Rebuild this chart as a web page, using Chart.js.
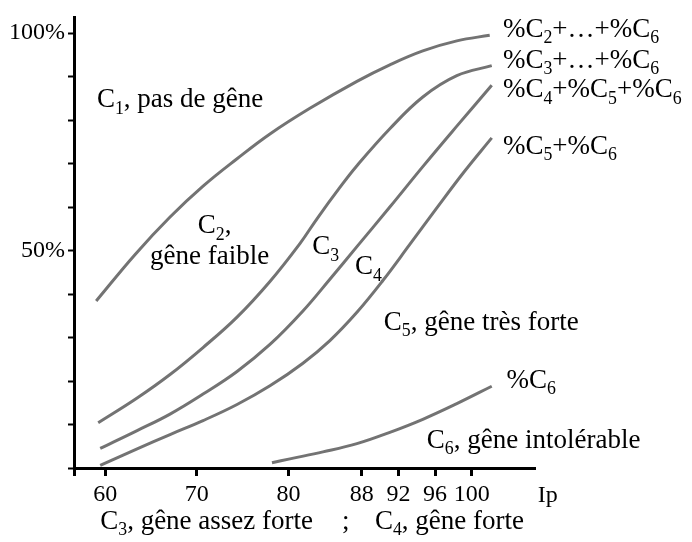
<!DOCTYPE html>
<html lang="fr">
<head>
<meta charset="utf-8">
<title>Classes de gêne en fonction de Ip</title>
<script src="https://cdn.jsdelivr.net/npm/chart.js@4/dist/chart.umd.min.js"></script>
<style>
  html, body { margin: 0; padding: 0; background: #fff; }
  canvas { display: block; }
</style>
</head>
<body>
<canvas id="graphique" width="692" height="542"></canvas>
<script>
// Valeurs lues sur chaque courbe : indice Ip et pourcentage cumulé
const ipC2aC6 = [59.02, 63.27, 67.08, 70.68, 74.39, 77.98, 82.34, 87.47, 91.06, 94.66, 98.37, 101.96];
const pctC2aC6 = [38.4, 49.1, 57.7, 64.8, 71.1, 76.8, 82.7, 88.9, 92.7, 95.9, 98.2, 99.5];

const ipC3aC6 = [59.24, 63.49, 67.08, 70.68, 74.39, 77.98, 81.25, 83.11, 85.61, 87.47, 91.06, 94.66, 98.37, 102.18];
const pctC3aC6 = [10.4, 16.1, 21.5, 27.7, 34.7, 42.9, 51.6, 57.3, 64.5, 69.5, 78.0, 85.3, 90.2, 92.5];

const ipC4aC6 = [59.46, 63.49, 67.08, 70.68, 74.39, 77.98, 81.58, 84.52, 87.47, 91.06, 94.66, 98.37, 102.18];
const pctC4aC6 = [4.5, 8.6, 12.4, 17.0, 22.2, 28.4, 36.1, 43.4, 50.9, 60.0, 69.3, 78.6, 88.0];

const ipC5C6 = [59.46, 63.49, 67.08, 70.68, 74.39, 77.98, 81.58, 84.52, 87.47, 90.30, 93.24, 96.19, 99.13, 102.18];
const pctC5C6 = [0.6, 4.4, 7.7, 10.9, 14.6, 18.9, 24.1, 29.3, 35.8, 43.1, 51.4, 59.8, 68.0, 75.9];

const ipC6 = [78.20, 80.16, 83.76, 87.47, 91.06, 94.66, 98.37, 102.18];
const pctC6 = [1.2, 2.1, 3.7, 5.6, 8.2, 11.2, 14.8, 18.8];

const ticksIp = [60, 70, 80, 88, 92, 96, 100];
const ticksPct = [50, 100];

const IP_MIN = 56.6;
const IP_MAX = 106.9;
const PCT_MAX = 103.6;

const POLICE = '"Liberation Serif", "Times New Roman", serif';
const COULEUR_COURBE = 'rgba(80, 80, 80, 0.8)';

/**
 * Textes posés dans le graphique (morceaux [texte, indice?]) et leur point d'ancrage en Ip / %.
 */
const etiquettes = [
    { morceaux: [['C'], ['1', true], [', pas de gêne']], ip: 59.1, pct: 82.9 },
    { morceaux: [['C'], ['2', true], [',']], ip: 70.1, pct: 54.0 },
    { morceaux: [['gêne faible']], ip: 64.9, pct: 46.8 },
    { morceaux: [['C'], ['3', true]], ip: 82.6, pct: 49.1 },
    { morceaux: [['C'], ['4', true]], ip: 87.25, pct: 44.5 },
    { morceaux: [['C'], ['5', true], [', gêne très forte']], ip: 90.4, pct: 31.8 },
    { morceaux: [['%C'], ['6', true]], ip: 103.8, pct: 18.4 },
    { morceaux: [['C'], ['6', true], [', gêne intolérable']], ip: 95.1, pct: 4.7 },
    { morceaux: [['%C'], ['2', true], ['+…+%C'], ['6', true]], ip: 103.4, pct: 99.1 },
    { morceaux: [['%C'], ['3', true], ['+…+%C'], ['6', true]], ip: 103.4, pct: 92.0 },
    { morceaux: [['%C'], ['4', true], ['+%C'], ['5', true], ['+%C'], ['6', true]], ip: 103.4, pct: 85.2 },
    { morceaux: [['%C'], ['5', true], ['+%C'], ['6', true]], ip: 103.4, pct: 72.3 }
];

/**
 * Construit la liste de points {x, y} d'une courbe.
 */
function points(ips, pcts) {
    return ips.map((ip, i) => ({ x: ip, y: pcts[i] }));
}

/**
 * Écrit un texte avec indices, à partir de la ligne de base (x, y).
 */
function ecrire(ctx, morceaux, x, y, taille) {
    let curseur = x;
    for (const [texte, indice] of morceaux) {
        const t = indice ? taille * 0.66 : taille;
        ctx.font = `${t}px ${POLICE}`;
        ctx.fillText(texte, curseur, indice ? y + taille * 0.24 : y);
        curseur += ctx.measureText(texte).width;
    }
}

const pluginTextes = {
    id: 'textes',
    afterDraw(chart) {
        const { ctx, chartArea } = chart;
        const sx = chart.scales.x;
        const sy = chart.scales.y;

        ctx.save();
        ctx.fillStyle = '#000';
        ctx.textBaseline = 'alphabetic';
        ctx.textAlign = 'left';

        for (const e of etiquettes) {
            ecrire(ctx, e.morceaux, sx.getPixelForValue(e.ip), sy.getPixelForValue(e.pct), 27);
        }

        // nom de l'axe et légende sous l'axe
        ecrire(ctx, [['Ip']], sx.getPixelForValue(107.2), chartArea.bottom + 34, 24);
        const base = chartArea.bottom + 61;
        ecrire(ctx, [['C'], ['3', true], [', gêne assez forte']], sx.getPixelForValue(59.46), base, 27);
        ecrire(ctx, [[';']], sx.getPixelForValue(85.83), base, 27);
        ecrire(ctx, [['C'], ['4', true], [', gêne forte']], sx.getPixelForValue(89.43), base, 27);

        ctx.restore();
    }
};

function serie(ips, pcts) {
    return {
        data: points(ips, pcts),
        borderColor: COULEUR_COURBE,
        borderWidth: 3,
        pointRadius: 0,
        fill: false,
        tension: 0.4
    };
}

new Chart(document.getElementById('graphique'), {
    type: 'line',
    data: {
        datasets: [
            serie(ipC2aC6, pctC2aC6),
            serie(ipC3aC6, pctC3aC6),
            serie(ipC4aC6, pctC4aC6),
            serie(ipC5C6, pctC5C6),
            serie(ipC6, pctC6)
        ]
    },
    options: {
        responsive: false,
        animation: false,
        devicePixelRatio: 1,
        layout: { padding: { top: 12, right: 157, left: 0, bottom: 0 } },
        plugins: {
            legend: { display: false },
            tooltip: { enabled: false }
        },
        scales: {
            x: {
                type: 'linear',
                min: IP_MIN,
                max: IP_MAX,
                afterBuildTicks: (s) => {
                    s.ticks = [IP_MIN].concat(ticksIp).map(v => ({ value: v }));
                },
                afterFit: (s) => { s.height = 74; },
                border: { display: true, color: '#000', width: 3 },
                grid: {
                    drawOnChartArea: false,
                    drawTicks: true,
                    tickLength: 8,
                    tickWidth: 3,
                    tickColor: '#000'
                },
                ticks: {
                    autoSkip: false,
                    maxRotation: 0,
                    padding: 4,
                    color: '#000',
                    font: { family: POLICE, size: 24 },
                    callback: (v) => ticksIp.includes(v) ? String(v) : ''
                }
            },
            y: {
                min: 0,
                max: PCT_MAX,
                afterFit: (s) => { s.width = 74; },
                border: { display: true, color: '#000', width: 3 },
                grid: {
                    drawOnChartArea: false,
                    drawTicks: true,
                    tickLength: 6,
                    tickWidth: 2,
                    tickColor: '#000'
                },
                ticks: {
                    stepSize: 10,
                    includeBounds: false,
                    autoSkip: false,
                    padding: 3,
                    color: '#000',
                    font: { family: POLICE, size: 24 },
                    callback: (v) => ticksPct.includes(v) ? v + '%' : ''
                }
            }
        }
    },
    plugins: [pluginTextes]
});
</script>
</body>
</html>
